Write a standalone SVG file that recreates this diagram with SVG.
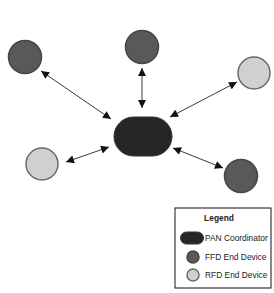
<svg xmlns="http://www.w3.org/2000/svg" width="274" height="293" viewBox="0 0 274 293">
<style>
.ffd{fill:#595959;stroke:#464646;stroke-width:1.5}
.rfd{fill:#d0d0d0;stroke:#6a6a6a;stroke-width:1.5}
.pan{fill:#262626;stroke:#333;stroke-width:1}
.conn line{stroke:#222;stroke-width:0.9;marker-start:url(#ah);marker-end:url(#ah)}
text{font-family:"Liberation Sans",Arial,sans-serif;font-size:8.4px;fill:#222}
</style>
<defs>
<marker id="ah" viewBox="0 0 10 10" refX="10" refY="5" markerWidth="9" markerHeight="8" markerUnits="userSpaceOnUse" orient="auto-start-reverse">
<path d="M0,0 L10,5 L0,10 z" fill="#111"/>
</marker>
</defs>
<rect width="274" height="293" fill="#fff"/>
<g class="conn">
<line x1="41" y1="71" x2="111" y2="119"/>
<line x1="142" y1="68" x2="142" y2="108"/>
<line x1="237" y1="82" x2="170" y2="117"/>
<line x1="66" y1="162" x2="109" y2="147"/>
<line x1="173" y1="148" x2="223" y2="168"/>
</g>
<g id="pan"><rect class="pan" x="114" y="117" width="58" height="39" rx="19.5"/></g>
<g id="ffd1"><circle class="ffd" cx="25" cy="57" r="16.5"/></g>
<g id="ffd2"><circle class="ffd" cx="142" cy="47" r="16.5"/></g>
<g id="rfd1"><circle class="rfd" cx="254" cy="73" r="16"/></g>
<g id="rfd2"><circle class="rfd" cx="42" cy="164" r="16"/></g>
<g id="ffd3"><circle class="ffd" cx="241" cy="176" r="16.5"/></g>
<g id="legend">
<rect x="175" y="208" width="96" height="80" fill="#fff" stroke="#111" stroke-width="1"/>
<text x="219" y="221" text-anchor="middle" font-weight="bold">Legend</text>
<rect class="pan" x="180.5" y="232" width="23" height="12" rx="6"/>
<text x="205" y="241">PAN Coordinator</text>
<circle class="ffd" cx="193" cy="257" r="6"/>
<text x="205" y="260">FFD End Device</text>
<circle class="rfd" cx="193" cy="275" r="6"/>
<text x="205" y="278">RFD End Device</text>
</g>
</svg>
